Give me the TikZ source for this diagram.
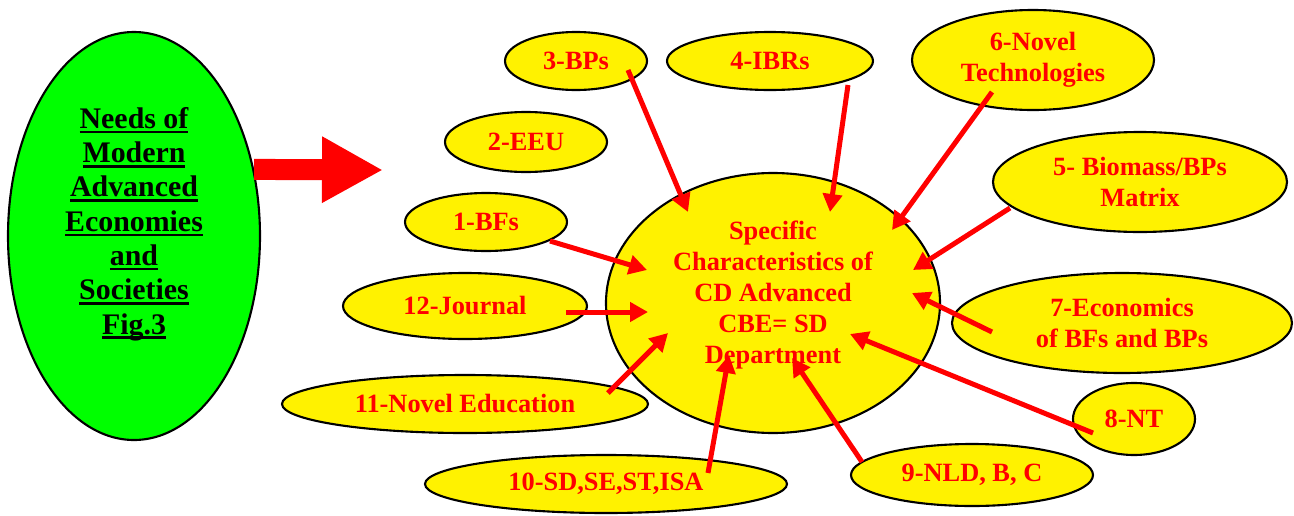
\documentclass[tikz,border=0pt]{standalone}
\usepackage{fontspec}
\setmainfont{Liberation Serif}
\usetikzlibrary{arrows.meta, shapes.geometric}
\definecolor{needsgreen}{RGB}{0,255,0}
\newcommand{\thickul}[1]{\setbox0\hbox{#1}\rlap{\rule[-2.8pt]{\wd0}{1.4pt}}\box0}
\tikzset{
  redtext/.style = {text=red, align=center, font=\bfseries\fontsize{15}{17.6}\selectfont},
  bubble/.style = {ellipse, draw, line width=1.2pt, fill=yellow, inner sep=0pt, redtext},
  flow/.style = {red, line width=0.1cm, -{Triangle[length=0.36cm, width=0.38cm]}}
}

\begin{document}
\begin{tikzpicture}
  \useasboundingbox (0,0) rectangle (25.88,-10.3);
  % left side
  \node (needs) at (2.68,-4.72) [ellipse, draw, line width=1.2pt, fill=needsgreen, minimum width=5.04cm, minimum height=8.16cm] {};
  \node (needstext) at (2.68,-4.48) [align=center, font=\bfseries\fontsize{17}{19.5}\selectfont]
    {\thickul{Needs of}\\ \thickul{Modern}\\ \thickul{Advanced}\\ \thickul{Economies}\\ \thickul{and}\\ \thickul{Societies}\\ \thickul{Fig.3}};
  \coordinate (bigtip) at (7.66,-3.4);
  \draw [red, line width=0.42cm, -{Triangle[length=1.22cm, width=1.24cm]}] (needs.29) -- (bigtip);

  % centre
  \node (spec) at (15.46,-6.06) [bubble, minimum width=6.68cm, minimum height=5.2cm] {};
  \node (spectext) at (15.46,-5.9) [redtext] {Specific\\ Characteristics of\\ CD Advanced\\ CBE= SD\\ Department};

  % bubbles
  \node (bps)      at (11.52,-1.22) [bubble, minimum width=2.84cm, minimum height=1.16cm] {3-BPs};
  \node (ibrs)     at (15.4,-1.22)  [bubble, minimum width=4.12cm, minimum height=1.16cm] {4-IBRs};
  \node (novtech)  at (20.66,-1.2)  [bubble, minimum width=4.84cm, minimum height=2cm] {6-Novel\\ Technologies};
  \node (eeu)      at (10.52,-2.84) [bubble, minimum width=3.24cm, minimum height=1.2cm] {2-EEU};
  \node (biomass)  at (22.8,-3.64)  [bubble, minimum width=5.88cm, minimum height=2cm] {5- Biomass/BPs\\ Matrix};
  \node (bfs)      at (9.72,-4.44)  [bubble, minimum width=3.24cm, minimum height=1.16cm] {1-BFs};
  \node (journal)  at (9.3,-6.12)   [bubble, minimum width=4.88cm, minimum height=1.32cm] {12-Journal};
  \node (econ)     at (22.44,-6.46) [bubble, minimum width=6.8cm, minimum height=2cm] {7-Economics\\ of BFs and BPs};
  \node (noved)    at (9.3,-8.08)   [bubble, minimum width=7.32cm, minimum height=1.16cm] {11-Novel Education};
  \node (nt)       at (22.68,-8.38) [bubble, minimum width=2.44cm, minimum height=1.44cm] {8-NT};
  \node (sdse)     at (12.12,-9.68) [bubble, minimum width=7.24cm, minimum height=1.16cm] {10-SD,SE,ST,ISA};
  \node (nld)      at (19.44,-9.5)  [bubble, minimum width=4.84cm, minimum height=1.24cm] {9-NLD, B, C};

  % arrows into the centre
  \draw [flow] ([shift={(1.04,-0.18)}]bps.center)     -- ([shift={(-1.7,1.82)}]spec.center);
  \draw [flow] ([shift={(1.56,-0.48)}]ibrs.center)    -- ([shift={(1.14,1.82)}]spec.center);
  \draw [flow] ([shift={(-0.82,-0.64)}]novtech.center) -- ([shift={(2.38,1.46)}]spec.center);
  \draw [flow] ([shift={(-2.6,-0.52)}]biomass.center) -- ([shift={(2.8,0.66)}]spec.center);
  \draw [flow] ([shift={(1.28,-0.38)}]bfs.center)     -- ([shift={(-2.52,0.66)}]spec.center);
  \draw [flow] ([shift={(2.02,-0.12)}]journal.center) -- ([shift={(-2.5,-0.18)}]spec.center);
  \draw [flow] ([shift={(-2.6,-0.18)}]econ.center)    -- ([shift={(2.78,0.2)}]spec.center);
  \draw [flow] ([shift={(2.86,0.22)}]noved.center)    -- ([shift={(-2.1,-0.6)}]spec.center);
  \draw [flow] ([shift={(-0.82,-0.28)}]nt.center)     -- ([shift={(1.54,-0.62)}]spec.center);
  \draw [flow] ([shift={(2.04,0.22)}]sdse.center)     -- ([shift={(-0.88,-1.04)}]spec.center);
  \draw [flow] ([shift={(-2.2,0.26)}]nld.center)      -- ([shift={(0.38,-1.1)}]spec.center);
\end{tikzpicture}
\end{document}
